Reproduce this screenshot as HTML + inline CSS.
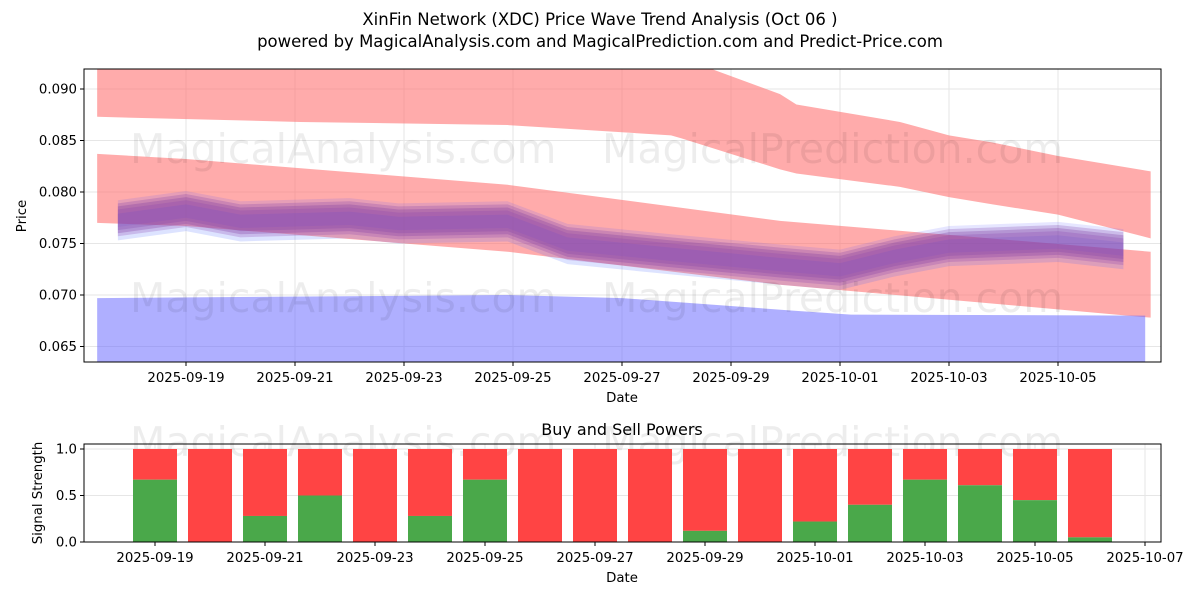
<!DOCTYPE html>
<html><head><meta charset="utf-8"><style>
body{margin:0;background:#fff;width:1200px;height:600px;overflow:hidden;font-family:"DejaVu Sans","Liberation Sans",sans-serif}
svg text{font-family:"DejaVu Sans","Liberation Sans",sans-serif}
</style></head><body>
<svg id="c" width="1200" height="600" xmlns="http://www.w3.org/2000/svg"></svg>
<script>
// ---- data (day offsets from 2025-09-17) ----
const upperDays=[0.37,4.1,7.9,10.9,11.1,12.9,13.2,15.1,16,16.8,18,19.7];
const upperLo=[0.0873,0.0868,0.0865,0.0855,0.0852,0.0822,0.0818,0.0805,0.0795,0.0788,0.0778,0.0755];
const upperHi=[0.0930,0.0930,0.0930,0.0930,0.0930,0.0895,0.0885,0.0868,0.0855,0.0848,0.0835,0.0820];
const midDays=[0.37,2,7.9,12.9,19.7];
const midHi=[0.0837,0.0832,0.0807,0.0772,0.0742];
const midLo=[0.0770,0.0767,0.0742,0.0710,0.0678];
const blueDays=[0.37,7.9,10,13.1,14.2,19.6];
const blueHi=[0.0697,0.0700,0.0697,0.0685,0.0681,0.0680];
const trendDays=[0.75,2,3,5,5.9,7.9,9,10.9,12.9,14,15,16,18,19.2];
const trendVal=[0.0773,0.0782,0.0772,0.0775,0.0770,0.0772,0.0750,0.0740,0.0730,0.0725,0.0738,0.0748,0.0752,0.0745];
const barDates=['09-19','09-20','09-21','09-22','09-23','09-24','09-25','09-26','09-27','09-28','09-29','09-30','10-01','10-02','10-03','10-04','10-05','10-06'];
const buyVals=[0.67,0,0.28,0.5,0,0.28,0.67,0,0,0,0.12,0,0.22,0.4,0.67,0.61,0.45,0.05];
const topTicks=['2025-09-19','2025-09-21','2025-09-23','2025-09-25','2025-09-27','2025-09-29','2025-10-01','2025-10-03','2025-10-05'];
const botTicks=['2025-09-19','2025-09-21','2025-09-23','2025-09-25','2025-09-27','2025-09-29','2025-10-01','2025-10-03','2025-10-05','2025-10-07'];
const yTicks=[0.065,0.070,0.075,0.080,0.085,0.090];

const svg=document.getElementById('c');const NS='http://www.w3.org/2000/svg';
function mk(t,a,p){const e=document.createElementNS(NS,t);for(const k in a)e.setAttribute(k,a[k]);(p||svg).appendChild(e);return e;}
const T={l:84,r:1161,t:69,b:362};
const xT=d=>77+d*54.5;
const yT=v=>89+(0.090-v)/0.001*10.3;
const B={l:84,r:1161,t:444,b:542};
const xB=d=>45+d*55;
const yB=v=>542-v*93;
function dayOf(s){const [m,d]=s.split('-').map(Number);return m===9?d-17:d+13;}
const FS=13.3;

let t=mk('text',{x:600,y:25,'text-anchor':'middle','font-size':16.5});t.textContent='XinFin Network (XDC) Price Wave Trend Analysis (Oct 06 )';

t=mk('text',{x:600,y:47,'text-anchor':'middle','font-size':16.5});t.textContent='powered by MagicalAnalysis.com and MagicalPrediction.com and Predict-Price.com';


const defs=mk('defs',{});const cp=mk('clipPath',{id:'cp'},defs);mk('rect',{x:T.l,y:T.t,width:T.r-T.l,height:T.b-T.t},cp);
const g=mk('g',{'clip-path':'url(#cp)'});
yTicks.forEach(v=>mk('line',{x1:T.l,x2:T.r,y1:yT(v),y2:yT(v),stroke:'#e6e6e6'},g));
topTicks.forEach(s=>mk('line',{x1:xT(dayOf(s.slice(5))),x2:xT(dayOf(s.slice(5))),y1:T.t,y2:T.b,stroke:'#e6e6e6'},g));
function band(days,lo,hi,fill,op,name){let p=days.map((d,i)=>xT(d)+','+yT(hi[i]));for(let i=days.length-1;i>=0;i--)p.push(xT(days[i])+','+yT(lo[i]));
 const e=mk('polygon',{points:p.join(' '),fill:fill,'fill-opacity':op},g);}
band(upperDays,upperLo,upperHi,'#ff6666',0.55,'upper-red-band');
band(midDays,midLo,midHi,'#ff6666',0.55,'middle-red-band');
band(blueDays,blueDays.map(()=>0.060),blueHi,'#6666ff',0.52,'lower-blue-band');
const offs=[[-0.0007,'#4466ff',0.18],[0.0006,'#5555ff',0.15],[0.0,'#8040a0',0.3],[-0.0003,'#8a3fb0',0.25],[0.0003,'#7a3aa8',0.25]];
offs.forEach((o,k)=>{const up=trendDays.map((d,i)=>xT(d)+','+yT(trendVal[i]+o[0]+0.0013));const dn=trendDays.map((d,i)=>xT(d)+','+yT(trendVal[i]+o[0]-0.0013)).reverse();
 const e=mk('polygon',{points:up.concat(dn).join(' '),fill:o[1],'fill-opacity':o[2]},g);
 });
[[130,163,'MagicalAnalysis.com'],[602,163,'MagicalPrediction.com'],[130,312,'MagicalAnalysis.com'],[602,312,'MagicalPrediction.com']].forEach(w=>{const e=mk('text',{x:w[0],y:w[1],'font-size':41,fill:'#000','fill-opacity':0.07},g);e.textContent=w[2];});
mk('rect',{x:T.l,y:T.t,width:T.r-T.l,height:T.b-T.t,fill:'none',stroke:'#000','stroke-width':1});
yTicks.forEach(v=>{mk('line',{x1:T.l-4,x2:T.l,y1:yT(v),y2:yT(v),stroke:'#000'});const e=mk('text',{x:T.l-7,y:yT(v)+4.5,'text-anchor':'end','font-size':FS});e.textContent=v.toFixed(3);});
topTicks.forEach(s=>{const x=xT(dayOf(s.slice(5)));mk('line',{x1:x,x2:x,y1:T.b,y2:T.b+4,stroke:'#000'});const e=mk('text',{x:x,y:T.b+20,'text-anchor':'middle','font-size':FS});e.textContent=s;});
t=mk('text',{x:622,y:402,'text-anchor':'middle','font-size':FS});t.textContent='Date';
t=mk('text',{x:26,y:216,'text-anchor':'middle','font-size':FS,transform:'rotate(-90 26 216)'});t.textContent='Price';

t=mk('text',{x:622,y:435,'text-anchor':'middle','font-size':16});t.textContent='Buy and Sell Powers';
[0,0.5,1].forEach(v=>mk('line',{x1:B.l,x2:B.r,y1:yB(v),y2:yB(v),stroke:'#e6e6e6'}));
botTicks.forEach(s=>{const x=xB(dayOf(s.slice(5)));mk('line',{x1:x,x2:x,y1:B.t,y2:B.b,stroke:'#e6e6e6'});});
[[130,456,'MagicalAnalysis.com'],[602,456,'MagicalPrediction.com']].forEach(w=>{const e=mk('text',{x:w[0],y:w[1],'font-size':41,fill:'#000','fill-opacity':0.07});e.textContent=w[2];});
barDates.forEach((s,i)=>{const x=xB(dayOf(s))-22;
 const r=mk('rect',{x:x,y:yB(1),width:44,height:yB(buyVals[i])-yB(1),fill:'#ff4444'});
 
 const gr=mk('rect',{x:x,y:yB(buyVals[i]),width:44,height:yB(0)-yB(buyVals[i]),fill:'#4aa84a'});
 });
mk('rect',{x:B.l,y:B.t,width:B.r-B.l,height:B.b-B.t,fill:'none',stroke:'#000'});
[0,0.5,1].forEach(v=>{mk('line',{x1:B.l-4,x2:B.l,y1:yB(v),y2:yB(v),stroke:'#000'});const e=mk('text',{x:B.l-7,y:yB(v)+4.5,'text-anchor':'end','font-size':FS});e.textContent=v.toFixed(1);});
botTicks.forEach(s=>{const x=xB(dayOf(s.slice(5)));mk('line',{x1:x,x2:x,y1:B.b,y2:B.b+4,stroke:'#000'});const e=mk('text',{x:x,y:B.b+20,'text-anchor':'middle','font-size':FS});e.textContent=s;});
t=mk('text',{x:622,y:582,'text-anchor':'middle','font-size':FS});t.textContent='Date';
t=mk('text',{x:42,y:493,'text-anchor':'middle','font-size':FS,transform:'rotate(-90 42 493)'});t.textContent='Signal Strength';
</script>
</body></html>
